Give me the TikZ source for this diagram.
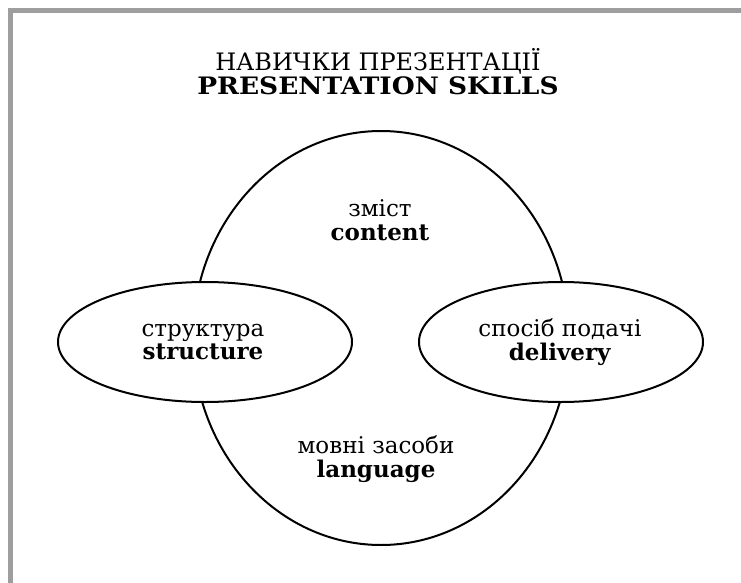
\documentclass[tikz,border=0pt]{standalone}
\usepackage{fontspec}
\setmainfont{DejaVu Serif}
\usetikzlibrary{shapes.geometric}
\tikzset{
  frameline/.style={line width=5pt, color=black!38},
  bigoval/.style={ellipse, draw, line width=2pt, inner sep=0pt},
  smalloval/.style={ellipse, draw, fill=white, line width=2pt, inner sep=0pt, minimum height=120pt},
  txt/.style={align=center, inner sep=0pt, font=\fontsize{23}{23.5}\selectfont},
  titletxt/.style={align=center, inner sep=0pt, font=\fontsize{24}{24}\selectfont}
}
\begin{document}
\begin{tikzpicture}[x=1pt,y=-1pt]
\useasboundingbox (0,0) rectangle (741,583);
\fill[white] (0,0) rectangle (741,583);
\coordinate (fr) at (741,10.5);
\coordinate (fc) at (10.5,10.5);
\coordinate (fb) at (10.5,583);
\draw[frameline] (fr) -- (fc) -- (fb);
\node[titletxt] (title) at (378,72) {НАВИЧКИ ПРЕЗЕНТАЦІЇ\\\scalebox{1.1}[1]{\textbf{PRESENTATION SKILLS}}};
\node[bigoval, minimum width=376pt, minimum height=414pt] (skills) at (381,338) {};
\node[smalloval, minimum width=294pt] (structure) at (205,342) {};
\node[smalloval, minimum width=284pt] (delivery) at (561,342) {};
\node[txt] (content) at (380,220) {зміст\\\textbf{content}};
\node[txt] (structuretxt) at (203,342) {структура\\\textbf{structure}};
\node[txt] (deliverytxt) at (560,342) {спосіб подачі\\\textbf{delivery}};
\node[txt] (language) at (376,459) {мовні засоби\\\textbf{language}};
\end{tikzpicture}
\end{document}
